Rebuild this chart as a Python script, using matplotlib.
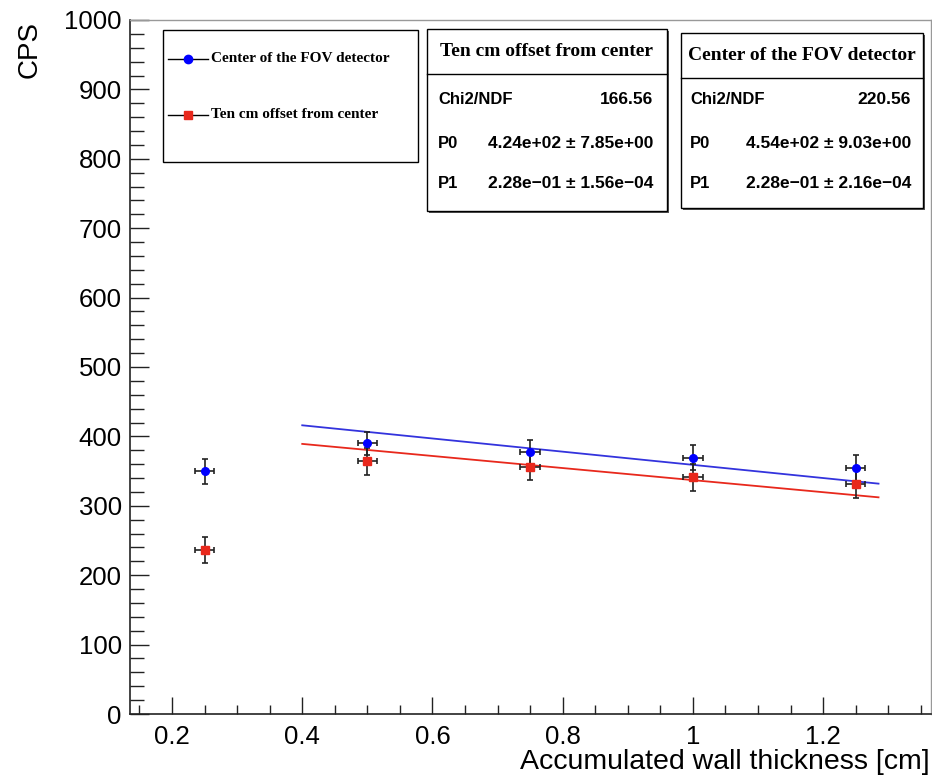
import numpy as np
import matplotlib
matplotlib.use("Agg")
import matplotlib.pyplot as plt
from matplotlib.patches import Rectangle
from matplotlib.lines import Line2D
from matplotlib.ticker import MultipleLocator

# measured data
thickness = [0.25, 0.5, 0.75, 1.0, 1.25]
x_err = [0.015, 0.015, 0.015, 0.015, 0.015]
cps_center = [350, 390, 377, 369, 354]
err_center = [18, 17, 18, 18, 19]
cps_offset = [236, 364, 356, 341, 331]
err_offset = [19, 19, 19, 19, 20]

# linear fits (drawn over 0.4 .. 1.285)
fit_range = [0.4, 1.285]
fit_center = [454.0, -95.0]
fit_offset = [424.0, -87.0]

stats_offset = ["Ten cm offset from center", "166.56",
                "4.24e+02 \u00b1 7.85e+00", "2.28e\u221201 \u00b1 1.56e\u221204"]
stats_center = ["Center of the FOV detector", "220.56",
                "4.54e+02 \u00b1 9.03e+00", "2.28e\u221201 \u00b1 2.16e\u221204"]

W, H = 932, 779
plt.rcParams['font.family'] = ['Liberation Sans', 'DejaVu Sans']

fig = plt.figure(figsize=(W / 100, H / 100), dpi=100)
ax = fig.add_axes([130 / W, 1 - 714 / H, (931 - 130) / W, (714 - 20) / H])


def fx(x):
    return x / W


def fy(y):
    return 1 - y / H


ax.errorbar(thickness, cps_center, xerr=x_err, yerr=err_center, fmt='none',
            ecolor='#222222', elinewidth=1.2, capsize=2.5, capthick=1.2, zorder=2)
ax.errorbar(thickness, cps_offset, xerr=x_err, yerr=err_offset, fmt='none',
            ecolor='#222222', elinewidth=1.2, capsize=2.5, capthick=1.2, zorder=2)
ax.plot(thickness, cps_center, 'o', color='#0000ff', ms=5.5, zorder=3)
ax.plot(thickness, cps_offset, 's', color='#e8281c', ms=5.5, zorder=3)

xf = np.array(fit_range)
ax.plot(xf, fit_center[0] + fit_center[1] * xf, color='#3333dd', lw=1.3, zorder=1)
ax.plot(xf, fit_offset[0] + fit_offset[1] * xf, color='#e8281c', lw=1.3, zorder=1)

ax.set_xlim(0.1355, 1.3656)
ax.set_ylim(0, 1000)
ax.xaxis.set_major_locator(MultipleLocator(0.2))
ax.xaxis.set_minor_locator(MultipleLocator(0.05))
ax.yaxis.set_major_locator(MultipleLocator(100))
ax.yaxis.set_minor_locator(MultipleLocator(20))
ax.xaxis.set_major_formatter(plt.FuncFormatter(lambda v, p: f"{v:g}"))
ax.tick_params(which='both', direction='in', top=False, right=False,
               labelsize=18.5, width=1.0, color='#222222')
ax.tick_params(axis='x', which='major', length=12, pad=8)
ax.tick_params(axis='x', which='minor', length=6.5)
ax.tick_params(axis='y', which='major', length=14, pad=6)
ax.tick_params(axis='y', which='minor', length=10)
for s in ['left', 'bottom']:
    ax.spines[s].set_linewidth(1.2)
    ax.spines[s].set_color('#222222')
for s in ['top', 'right']:
    ax.spines[s].set_linewidth(1.0)
    ax.spines[s].set_color('#999999')

fig.text(fx(30), fy(21), "CPS", rotation=90, ha='center', va='top', fontsize=20)
fig.text(fx(930), fy(762), "Accumulated wall thickness [cm]", ha='right',
         va='center', fontsize=20.5)

# legend box
fig.patches.append(Rectangle((fx(163), fy(162)), fx(418 - 163), (162 - 30) / H,
                             transform=fig.transFigure, fill=False, ec='black', lw=1.0))
for yy, mk, col, lab in [(59, 'o', '#0000ff', "Center of the FOV detector"),
                         (115, 's', '#e8281c', "Ten cm offset from center")]:
    fig.lines.append(Line2D([fx(168), fx(208)], [fy(yy), fy(yy)], color='black',
                            lw=1.0, transform=fig.transFigure))
    fig.lines.append(Line2D([fx(188)], [fy(yy)], marker=mk, color=col, ms=6,
                            transform=fig.transFigure))
    fig.text(fx(211), fy(yy), lab, family=['Liberation Serif'], weight='bold',
             fontsize=11, ha='left', va='center')


def stats_box(x0, x1, y0, y1, ysep, lab_x, val_x, rows_y, head_y, texts):
    fig.patches.append(Rectangle((fx(x0 + 2), fy(y1 + 2)), (x1 - x0) / W, (y1 - y0) / H,
                                 transform=fig.transFigure, fc='#555555', ec='none', zorder=4))
    fig.patches.append(Rectangle((fx(x0), fy(y1)), (x1 - x0) / W, (y1 - y0) / H,
                                 transform=fig.transFigure, fc='white', ec='black',
                                 lw=1.0, zorder=5))
    fig.lines.append(Line2D([fx(x0), fx(x1)], [fy(ysep), fy(ysep)], color='black',
                            lw=1.0, transform=fig.transFigure, zorder=6))
    fig.text(fx((x0 + x1) / 2), fy(head_y), texts[0], family=['Liberation Serif'],
             weight='bold', fontsize=14, ha='center', va='center', zorder=7)
    for yy, lab, val in zip(rows_y, ["Chi2/NDF", "P0", "P1"], texts[1:]):
        fig.text(fx(lab_x), fy(yy), lab, fontsize=12, weight='bold',
                 ha='left', va='center', zorder=7)
        fig.text(fx(val_x), fy(yy), val, fontsize=12.5, weight='bold',
                 ha='right', va='center', zorder=7)


stats_box(427, 667, 29, 211, 74, 438, 653, [100, 143, 183], 52, stats_offset)
stats_box(681, 923, 33, 208, 78, 690, 911, [99, 143, 183], 55, stats_center)

fig.savefig("out.png", dpi=100)
